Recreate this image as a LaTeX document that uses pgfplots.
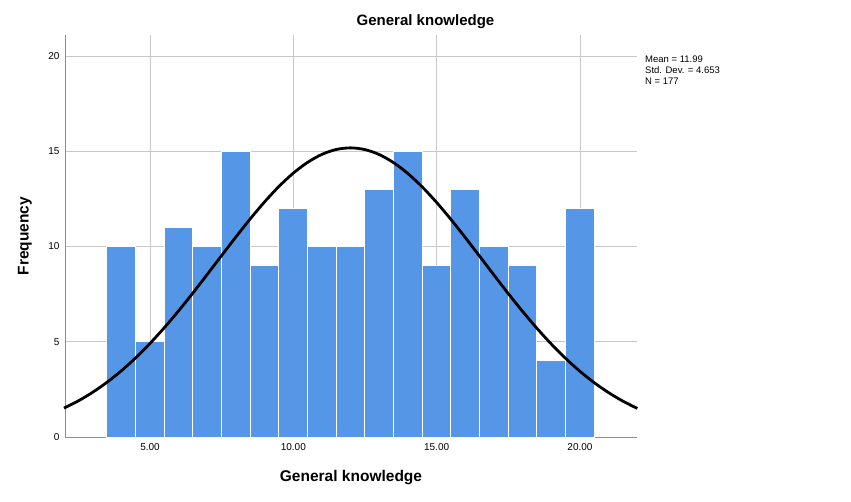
\documentclass[border=0pt]{standalone}
\usepackage{fontspec}
\setmainfont{Liberation Sans}
\usepackage{pgfplots}
\pgfplotsset{compat=1.18}
\definecolor{barblue}{HTML}{5596E6}
\definecolor{gridgray}{HTML}{C8C8C8}
\definecolor{axgray}{HTML}{8C8C8C}
\begin{document}
\begin{tikzpicture}[x=1pt,y=1pt]
\path[use as bounding box] (-65,-64) rectangle (786,437);
\begin{axis}[
  at={(0,0)}, anchor=south west,
  scale only axis, width=572pt, height=402pt,
  xmin=2.035, xmax=21.99, ymin=0, ymax=21.1,
  axis lines=left, axis line style={-, axgray, line width=0.8pt},
  xtick={5,10,15,20}, ytick={0,5,10,15,20},
  xticklabels={5.00,10.00,15.00,20.00},
  major tick length=0pt,
  grid=major, major grid style={gridgray, line width=0.8pt},
  /pgf/number format/assume math mode=true,
  ticklabel style={font=\fontsize{10}{12}\selectfont},
  xticklabel style={yshift=-3pt},
  yticklabel style={xshift=-2pt},
  clip=false,
]
\addplot[ybar interval, fill=barblue, draw=white, line width=1pt] coordinates {
(3.5,10) (4.5,5) (5.5,11) (6.5,10) (7.5,15) (8.5,9) (9.5,12) (10.5,10) (11.5,10)
(12.5,13) (13.5,15) (14.5,9) (15.5,13) (16.5,10) (17.5,9) (18.5,4) (19.5,12) (20.5,12)
};
\addplot[black, line width=2.8pt, smooth] coordinates {
(2,1.515) (2.5,1.896) (3,2.347) (3.5,2.871) (4,3.474) (4.5,4.154) (5,4.911)
(5.5,5.738) (6,6.627) (6.5,7.565) (7,8.540) (7.5,9.527) (8,10.506) (8.5,11.455)
(9,12.344) (9.5,13.152) (10,13.850) (10.5,14.417) (11,14.836) (11.5,15.092)
(12,15.176) (12.5,15.085) (13,14.823) (13.5,14.398) (14,13.824) (14.5,13.121)
(15,12.311) (15.5,11.418) (16,10.468) (16.5,9.488) (17,8.500) (17.5,7.527)
(18,6.590) (18.5,5.703) (19,4.879) (19.5,4.126) (20,3.448) (20.5,2.849)
(21,2.328) (21.5,1.880) (22,1.500)
};
\end{axis}
\node[font=\bfseries\fontsize{15}{18}\selectfont] at (360.5,415.5) {General knowledge};
\node[font=\bfseries\fontsize{15.5}{18}\selectfont] at (286,-41) {General knowledge};
\node[font=\bfseries\fontsize{15.5}{18}\selectfont, rotate=90] at (-40,201) {Frequency};
\node[anchor=north west, align=left, inner sep=0pt, font=\fontsize{9.5}{11}\selectfont] at (580,381) {Mean = 11.99\\Std. Dev. = 4.653\\N = 177};
\end{tikzpicture}
\end{document}
